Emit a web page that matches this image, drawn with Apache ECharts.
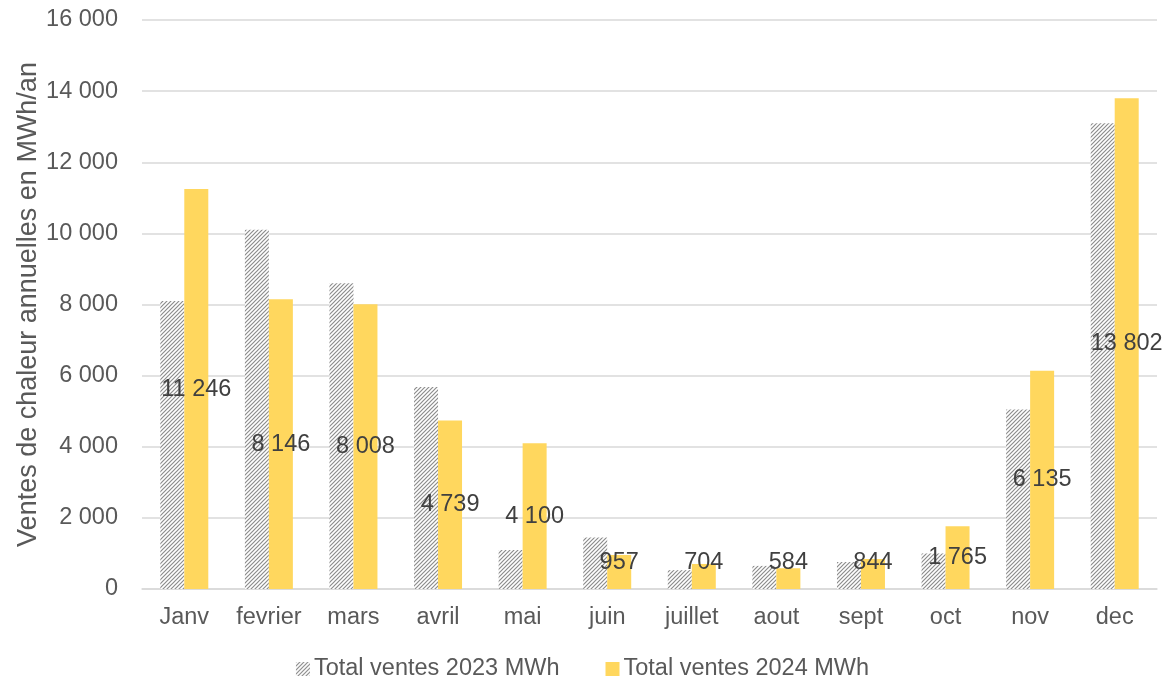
<!DOCTYPE html>
<html>
<head>
<meta charset="utf-8">
<script src="https://cdn.jsdelivr.net/npm/echarts@6/dist/echarts.min.js"></script>
<style>
  html, body { margin: 0; padding: 0; background: #fff; }
  #main { width: 1165px; height: 678px; }
</style>
</head>
<body>
<div id="main"></div>
<script>
  // donnees
  var months = ['Janv', 'fevrier', 'mars', 'avril', 'mai', 'juin', 'juillet', 'aout', 'sept', 'oct', 'nov', 'dec'];
  var ventes2023 = [8100, 10100, 8600, 5680, 1100, 1450, 530, 650, 760, 1000, 5050, 13100];
  var ventes2024 = [11246, 8146, 8008, 4739, 4100, 957, 704, 584, 844, 1765, 6135, 13802];
  var yTicks = [0, 2000, 4000, 6000, 8000, 10000, 12000, 14000, 16000];

  // separateur de milliers : espace
  function fmt(v) {
    return String(Math.round(v)).replace(/\B(?=(\d{3})+(?!\d))/g, ' ');
  }

  // motif hachure pour 2023
  var hatch = document.createElement('canvas');
  hatch.width = 4;
  hatch.height = 4;
  var ctx = hatch.getContext('2d');
  ctx.fillStyle = '#ffffff';
  ctx.fillRect(0, 0, 4, 4);
  ctx.strokeStyle = '#8c8c8c';
  ctx.lineWidth = 1.2;
  ctx.beginPath();
  ctx.moveTo(0, 4); ctx.lineTo(4, 0);
  ctx.moveTo(-1, 1); ctx.lineTo(1, -1);
  ctx.moveTo(3, 5); ctx.lineTo(5, 3);
  ctx.stroke();

  var font = 'Liberation Sans, Arial, sans-serif';
  var fs = 23.5;

  // petites barres : etiquette posee plus haut que le centre
  var data2024 = ventes2024.map(function (v) {
    if (v < 1200) {
      return { value: v, label: { position: 'insideBottom', distance: 14 } };
    }
    return v;
  });

  var myChart = echarts.init(document.getElementById('main'));
  myChart.setOption({
    animation: false,
    textStyle: { fontFamily: font },
    grid: { left: 142, right: 8, top: 20, bottom: 89 },
    legend: {
      top: 652,
      left: 'center',
      itemWidth: 14,
      itemHeight: 14,
      itemGap: 46,
      icon: 'rect',
      textStyle: { fontSize: fs, color: '#595959', fontFamily: font, padding: [0, 0, 0, -1] },
      data: ['Total ventes 2023 MWh', 'Total ventes 2024 MWh']
    },
    xAxis: {
      type: 'category',
      data: months,
      axisLine: { lineStyle: { color: '#d9d9d9', width: 1.5 } },
      axisTick: { show: false },
      axisLabel: { fontSize: fs, color: '#595959', margin: 17, interval: 0 }
    },
    yAxis: {
      type: 'value',
      min: yTicks[0],
      max: yTicks[yTicks.length - 1],
      interval: yTicks[1] - yTicks[0],
      name: 'Ventes de chaleur annuelles en MWh/an',
      nameLocation: 'middle',
      nameGap: 100,
      nameMoveOverlap: false,
      nameTextStyle: { fontSize: 27, color: '#595959' },
      axisLine: { show: false },
      axisTick: { show: false },
      axisLabel: { fontSize: fs, color: '#595959', margin: 24, formatter: fmt },
      splitLine: { lineStyle: { color: '#d9d9d9', width: 1.5 } }
    },
    series: [
      {
        name: 'Total ventes 2023 MWh',
        type: 'bar',
        data: ventes2023,
        barWidth: 24,
        barGap: '0%',
        itemStyle: { color: { image: hatch, repeat: 'repeat' } }
      },
      {
        name: 'Total ventes 2024 MWh',
        type: 'bar',
        data: data2024,
        barWidth: 24,
        barGap: '0%',
        itemStyle: { color: '#ffd75e' },
        label: {
          show: true,
          position: 'inside',
          fontSize: fs,
          color: '#404040',
          formatter: function (p) { return fmt(p.value); }
        }
      }
    ]
  });
</script>
</body>
</html>
